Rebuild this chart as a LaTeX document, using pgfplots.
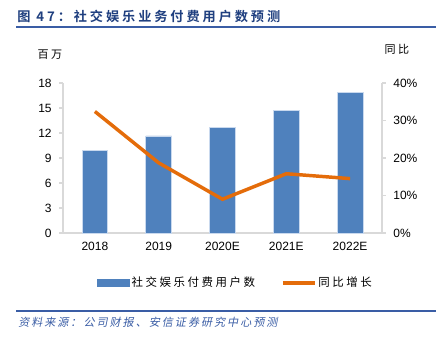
\documentclass[border=0pt]{standalone}
\usepackage{fontspec}
\usepackage{pgfplots}
\pgfplotsset{compat=1.18}
\setmainfont{Liberation Sans}
\newfontfamily\cjk[LetterSpace=22]{Noto Sans CJK SC}
\newfontfamily\cjkt[LetterSpace=22]{Noto Sans CJK SC Bold}
\newfontfamily\cjks[LetterSpace=18,FakeSlant=0.2]{Noto Sans CJK SC}
\definecolor{barblue}{HTML}{4F81BD}
\definecolor{baredge}{HTML}{C9D9EE}
\definecolor{lineorange}{HTML}{E46C0A}
\definecolor{titlenavy}{HTML}{1F3F7F}
\definecolor{rulecol}{HTML}{3A5DA5}
\definecolor{axgrey}{HTML}{D9D9D9}
\begin{document}
\begin{tikzpicture}
\path[use as bounding box] (0,0) rectangle (327pt,255.75pt);
% title
\node[anchor=west, inner sep=0pt, text=titlenavy, font=\fontsize{9.9pt}{11pt}\selectfont] at (12.75pt,243.4pt) {\cjkt 图 47：社交娱乐业务付费用户数预测};
\draw[rulecol, line width=1.1pt] (12pt,235.5pt) -- (327pt,235.5pt);
% source
\draw[rulecol, line width=1.1pt] (12pt,22.5pt) -- (327pt,22.5pt);
\node[anchor=west, inner sep=0pt, text=rulecol, font=\fontsize{8.3pt}{10pt}\selectfont] at (13.5pt,13.9pt) {\cjks 资料来源：公司财报、安信证券研究中心预测};

\begin{axis}[
  at={(47.25pt,81pt)}, anchor=south west,
  scale only axis, width=239.25pt, height=112.5pt,
  xmin=-0.5, xmax=4.5, ymin=0, ymax=18,
  axis x line*=bottom, axis y line*=left,
  axis line style={axgrey, line width=0.8pt},
  xtick={0,1,2,3,4}, xticklabels={2018,2019,2020E,2021E,2022E},
  x tick style={draw=none},
  ytick={0,3,...,18},
  y tick style={axgrey, line width=0.8pt},
  tick align=outside, major tick length=3pt,
  tick label style={font=\fontsize{9pt}{10pt}\selectfont},
  /pgf/number format/assume math mode=true,
  yticklabel style={xshift=-2pt},
  every axis y label/.style={at={(rel axis cs:0,1)}, anchor=center, xshift=-9.75pt, yshift=21pt, font=\fontsize{8.3pt}{10pt}\selectfont},
  ylabel={\cjk 百万},
  clip=false,
]
\addplot[ybar, bar width=19.3pt, fill=barblue, draw=baredge, line width=0.5pt] coordinates {
(0,9.9) (1,11.64) (2,12.64) (3,14.67) (4,16.83)};
\end{axis}

\begin{axis}[
  at={(47.25pt,81pt)}, anchor=south west,
  scale only axis, width=239.25pt, height=112.5pt,
  xmin=-0.5, xmax=4.5, ymin=0, ymax=40,
  axis x line=none, axis y line*=right,
  axis line style={axgrey, line width=0.8pt},
  ytick={0,10,...,40},
  yticklabel={\pgfmathprintnumber{\tick}\%},
  y tick style={axgrey, line width=0.8pt},
  tick align=outside, major tick length=3pt,
  tick label style={font=\fontsize{9pt}{10pt}\selectfont},
  /pgf/number format/assume math mode=true,
  yticklabel style={xshift=2pt},
  every axis y label/.style={at={(rel axis cs:1,1)}, anchor=center, xshift=11.25pt, yshift=25pt, font=\fontsize{8.3pt}{10pt}\selectfont},
  ylabel={\cjk 同比},
  clip=false,
  legend columns=2,
  legend style={at={(0.5408,-0.3333)}, anchor=center, draw=none, fill=none,
    font=\fontsize{8.6pt}{10pt}\selectfont,
    /tikz/every even column/.append style={column sep=18pt},
    nodes={inner sep=1.5pt}},
]
\addlegendimage{legend image code/.code={\fill[barblue] (0pt,-2.6pt) rectangle (24pt,2.6pt);}}
\addlegendentry{\cjk 社交娱乐付费用户数}
\addplot[lineorange, line width=2.6pt, no markers,
  legend image code/.code={\draw[lineorange, line width=2.6pt] (0pt,0pt) -- (24pt,0pt);}] coordinates {
(0,32.4) (1,18.7) (2,9.0) (3,15.8) (4,14.5)};
\addlegendentry{\cjk 同比增长}
\end{axis}
\end{tikzpicture}
\end{document}
